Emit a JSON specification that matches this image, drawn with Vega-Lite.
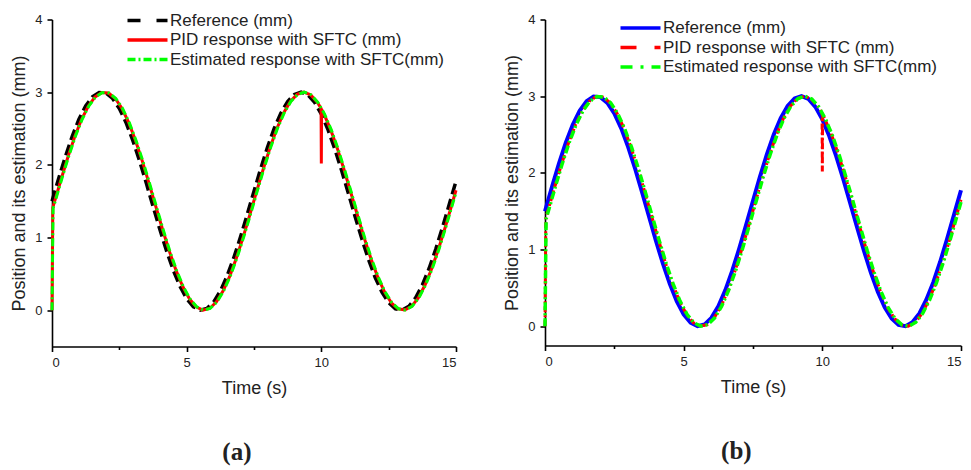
{
  "$schema": "https://vega.github.io/schema/vega-lite/v6.json",
  "background": "white",
  "padding": {"left": 10, "top": 11.5, "right": 5, "bottom": 5},
  "datasets": {
    "ref": [
      {"t":0,"v":1.5},{"t":0.25,"v":1.816},{"t":0.5,"v":2.118},{"t":0.75,"v":2.393},{"t":1,"v":2.627},{"t":1.25,"v":2.81},{"t":1.5,"v":2.935},{"t":1.75,"v":2.995},{"t":2,"v":2.988},{"t":2.25,"v":2.913},{"t":2.5,"v":2.775},{"t":2.75,"v":2.58},{"t":3,"v":2.336},{"t":3.25,"v":2.055},{"t":3.5,"v":1.749},{"t":3.75,"v":1.431},{"t":4,"v":1.117},{"t":4.25,"v":0.819},{"t":4.5,"v":0.553},{"t":4.75,"v":0.329},{"t":5,"v":0.157},{"t":5.25,"v":0.047},{"t":5.5,"v":0.001},{"t":5.75,"v":0.023},{"t":6,"v":0.111},{"t":6.25,"v":0.262},{"t":6.5,"v":0.469},{"t":6.75,"v":0.722},{"t":7,"v":1.009},{"t":7.25,"v":1.319},{"t":7.5,"v":1.638},{"t":7.75,"v":1.949},{"t":8,"v":2.241},{"t":8.25,"v":2.5},{"t":8.5,"v":2.713},{"t":8.75,"v":2.872},{"t":9,"v":2.969},{"t":9.25,"v":3.0},{"t":9.5,"v":2.964},{"t":9.75,"v":2.861},{"t":10,"v":2.698},{"t":10.25,"v":2.481},{"t":10.5,"v":2.219},{"t":10.75,"v":1.925},{"t":11,"v":1.612},{"t":11.25,"v":1.294},{"t":11.5,"v":0.985},{"t":11.75,"v":0.7},{"t":12,"v":0.45},{"t":12.25,"v":0.248},{"t":12.5,"v":0.102},{"t":12.75,"v":0.019},{"t":13,"v":0.002},{"t":13.25,"v":0.053},{"t":13.5,"v":0.169},{"t":13.75,"v":0.346},{"t":14,"v":0.573},{"t":14.25,"v":0.842},{"t":14.5,"v":1.141},{"t":14.75,"v":1.457},{"t":15,"v":1.774}
    ],
    "pid": [
      {"t":0,"v":0},{"t":0.03,"v":1.41},{"t":0.1,"v":1.5},{"t":0.35,"v":1.816},{"t":0.6,"v":2.118},{"t":0.85,"v":2.393},{"t":1.1,"v":2.627},{"t":1.35,"v":2.81},{"t":1.6,"v":2.935},{"t":1.85,"v":2.995},{"t":2.1,"v":2.988},{"t":2.35,"v":2.913},{"t":2.6,"v":2.775},{"t":2.85,"v":2.58},{"t":3.1,"v":2.336},{"t":3.35,"v":2.055},{"t":3.6,"v":1.749},{"t":3.85,"v":1.431},{"t":4.1,"v":1.117},{"t":4.35,"v":0.819},{"t":4.6,"v":0.553},{"t":4.85,"v":0.329},{"t":5.1,"v":0.157},{"t":5.35,"v":0.047},{"t":5.6,"v":0.001},{"t":5.85,"v":0.023},{"t":6.1,"v":0.111},{"t":6.35,"v":0.262},{"t":6.6,"v":0.469},{"t":6.85,"v":0.722},{"t":7.1,"v":1.009},{"t":7.35,"v":1.319},{"t":7.6,"v":1.638},{"t":7.85,"v":1.949},{"t":8.1,"v":2.241},{"t":8.35,"v":2.5},{"t":8.6,"v":2.713},{"t":8.85,"v":2.872},{"t":9.1,"v":2.969},{"t":9.35,"v":3.0},{"t":9.6,"v":2.964},{"t":9.85,"v":2.861},{"t":9.99,"v":2.777},{"t":10,"v":2.02},{"t":10.01,"v":2.763},{"t":10.1,"v":2.698},{"t":10.35,"v":2.481},{"t":10.6,"v":2.219},{"t":10.85,"v":1.925},{"t":11.1,"v":1.612},{"t":11.35,"v":1.294},{"t":11.6,"v":0.985},{"t":11.85,"v":0.7},{"t":12.1,"v":0.45},{"t":12.35,"v":0.248},{"t":12.6,"v":0.102},{"t":12.85,"v":0.019},{"t":13.1,"v":0.002},{"t":13.35,"v":0.053},{"t":13.6,"v":0.169},{"t":13.85,"v":0.346},{"t":14.1,"v":0.573},{"t":14.35,"v":0.842},{"t":14.6,"v":1.141},{"t":14.85,"v":1.457},{"t":15,"v":1.65}
    ],
    "est": [
      {"t":0,"v":0},{"t":0.04,"v":1.4},{"t":0.12,"v":1.5},{"t":0.37,"v":1.816},{"t":0.62,"v":2.118},{"t":0.87,"v":2.393},{"t":1.12,"v":2.627},{"t":1.37,"v":2.81},{"t":1.62,"v":2.935},{"t":1.87,"v":2.995},{"t":2.12,"v":2.988},{"t":2.37,"v":2.913},{"t":2.62,"v":2.775},{"t":2.87,"v":2.58},{"t":3.12,"v":2.336},{"t":3.37,"v":2.055},{"t":3.62,"v":1.749},{"t":3.87,"v":1.431},{"t":4.12,"v":1.117},{"t":4.37,"v":0.819},{"t":4.62,"v":0.553},{"t":4.87,"v":0.329},{"t":5.12,"v":0.157},{"t":5.37,"v":0.047},{"t":5.62,"v":0.001},{"t":5.87,"v":0.023},{"t":6.12,"v":0.111},{"t":6.37,"v":0.262},{"t":6.62,"v":0.469},{"t":6.87,"v":0.722},{"t":7.12,"v":1.009},{"t":7.37,"v":1.319},{"t":7.62,"v":1.638},{"t":7.87,"v":1.949},{"t":8.12,"v":2.241},{"t":8.37,"v":2.5},{"t":8.62,"v":2.713},{"t":8.87,"v":2.872},{"t":9.12,"v":2.969},{"t":9.37,"v":3.0},{"t":9.62,"v":2.964},{"t":9.87,"v":2.861},{"t":10.12,"v":2.698},{"t":10.37,"v":2.481},{"t":10.62,"v":2.219},{"t":10.87,"v":1.925},{"t":11.12,"v":1.612},{"t":11.37,"v":1.294},{"t":11.62,"v":0.985},{"t":11.87,"v":0.7},{"t":12.12,"v":0.45},{"t":12.37,"v":0.248},{"t":12.62,"v":0.102},{"t":12.87,"v":0.019},{"t":13.12,"v":0.002},{"t":13.37,"v":0.053},{"t":13.62,"v":0.169},{"t":13.87,"v":0.346},{"t":14.12,"v":0.573},{"t":14.37,"v":0.842},{"t":14.62,"v":1.141},{"t":14.87,"v":1.457},{"t":15,"v":1.622}
    ]
  },
  "config": {
    "view": {"stroke": null},
    "font": "Liberation Sans",
    "axis": {
      "domainColor": "black", "domainWidth": 1.6, "tickColor": "black", "tickWidth": 1.6,
      "labelFont": "Liberation Sans", "labelFontSize": 13, "labelColor": "#222",
      "titleFont": "Liberation Sans", "titleFontSize": 18, "titleFontWeight": "normal", "titleColor": "#222",
      "grid": false, "labelPadding": 5
    },
    "legend": {
      "title": null, "orient": "none", "symbolType": "M-4,0H4", "symbolSize": 100, "symbolStrokeWidth": 3.5,
      "labelFont": "Liberation Sans", "labelFontSize": 17, "labelColor": "#222", "rowPadding": 1.5, "labelOffset": 14,
      "padding": 0, "labelLimit": 400
    },
    "title": {"font": "Liberation Serif", "fontSize": 25, "fontWeight": "bold", "color": "#222", "frame": "bounds"}
  },
  "columns": 2,
  "align": "none",
  "spacing": 40,
  "resolve": {"scale": {"color": "independent"}, "legend": {"color": "independent"}},
  "concat": [
    {
      "width": 404, "height": 327,
      "title": {"text": "(a)", "orient": "bottom", "offset": 42},
      "encoding": {
        "x": {"field": "t", "type": "quantitative", "scale": {"domain": [0, 15], "nice": false},
          "axis": {"title": "Time (s)", "values": [0, 2.5, 5, 7.5, 10, 12.5, 15], "format": "d",
            "labelExpr": "datum.value % 5 == 0 ? datum.label : ''",
            "tickSize": {"condition": {"test": "datum.value % 5 != 0", "value": 3}, "value": 5},
            "titlePadding": 10}},
        "y": {"field": "v", "type": "quantitative", "scale": {"domain": [-0.5, 4], "nice": false},
          "axis": {"title": "Position and its estimation (mm)", "values": [0, 0.5, 1, 1.5, 2, 2.5, 3, 3.5, 4], "format": "d",
            "labelExpr": "datum.value % 1 == 0 ? datum.label : ''",
            "tickSize": {"condition": {"test": "datum.value % 1 != 0", "value": 3}, "value": 5},
            "titlePadding": 6}}
      },
      "layer": [
        {"data": {"name": "ref"}, "mark": {"type": "line", "strokeDash": [11, 5], "strokeWidth": 3.5},
          "encoding": {"color": {"datum": "Reference (mm)",
            "scale": {"domain": ["Reference (mm)", "PID response with SFTC (mm)", "Estimated response with SFTC(mm)"], "range": ["black", "#ff0000", "#00ff00"]},
            "legend": {"legendX": 87, "legendY": -7.5,
              "encode": {"symbols": {"update": {"strokeDash": {"signal": "datum.value == 'Reference (mm)' ? [13, 16] : datum.value == 'Estimated response with SFTC(mm)' ? [8, 3, 2, 3] : [1, 0]"}}}}}}}},
        {"data": {"name": "pid"}, "mark": {"type": "line", "strokeWidth": 3},
          "encoding": {"color": {"datum": "PID response with SFTC (mm)"}}},
        {"data": {"name": "est"}, "mark": {"type": "line", "strokeDash": [8, 3, 2, 3], "strokeWidth": 3},
          "encoding": {"color": {"datum": "Estimated response with SFTC(mm)"}}}
      ]
    },
    {
      "width": 416, "height": 326,
      "title": {"text": "(b)", "orient": "bottom", "offset": 42},
      "encoding": {
        "x": {"field": "t", "type": "quantitative", "scale": {"domain": [0, 15], "nice": false},
          "axis": {"title": "Time (s)", "values": [0, 2.5, 5, 7.5, 10, 12.5, 15], "format": "d",
            "labelExpr": "datum.value % 5 == 0 ? datum.label : ''",
            "tickSize": {"condition": {"test": "datum.value % 5 != 0", "value": 3}, "value": 5},
            "titlePadding": 10}},
        "y": {"field": "v", "type": "quantitative", "scale": {"domain": [-0.25, 4], "nice": false},
          "axis": {"title": "Position and its estimation (mm)", "values": [0, 0.5, 1, 1.5, 2, 2.5, 3, 3.5, 4], "format": "d",
            "labelExpr": "datum.value % 1 == 0 ? datum.label : ''",
            "tickSize": {"condition": {"test": "datum.value % 1 != 0", "value": 3}, "value": 5},
            "titlePadding": 6}}
      },
      "layer": [
        {"data": {"name": "ref"}, "mark": {"type": "line", "strokeWidth": 4},
          "encoding": {"color": {"datum": "Reference (mm)",
            "scale": {"domain": ["Reference (mm)", "PID response with SFTC (mm)", "Estimated response with SFTC(mm)"], "range": ["#0000ff", "#ff0000", "#00ff00"]},
            "legend": {"legendX": 87, "legendY": 0,
              "encode": {"symbols": {"update": {"strokeDash": {"signal": "datum.value == 'PID response with SFTC (mm)' ? [16, 18] : datum.value == 'Estimated response with SFTC(mm)' ? [12, 8, 3, 8] : [1, 0]"}}}}}}}},
        {"data": {"name": "pid"}, "mark": {"type": "line", "strokeDash": [6, 3, 2, 3], "strokeWidth": 3},
          "encoding": {"color": {"datum": "PID response with SFTC (mm)"}}},
        {"data": {"name": "est"}, "mark": {"type": "line", "strokeDash": [8, 3, 2, 3], "strokeWidth": 3.5},
          "encoding": {"color": {"datum": "Estimated response with SFTC(mm)"}}}
      ]
    }
  ]
}
